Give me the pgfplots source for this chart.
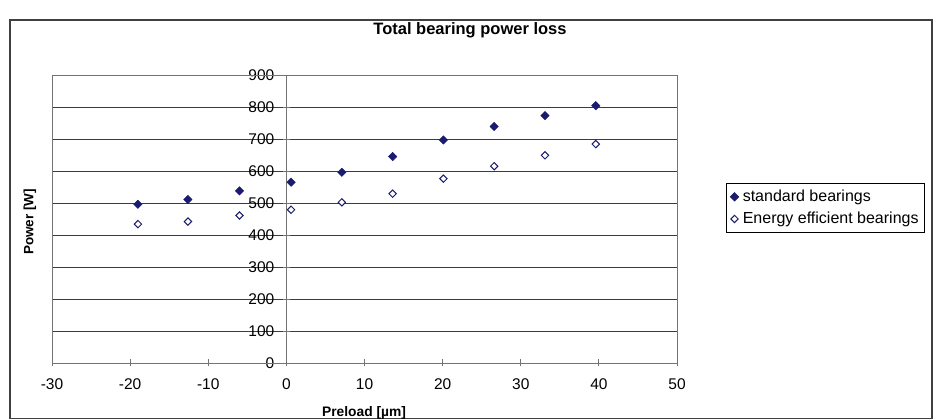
\documentclass[border=0pt]{standalone}
\usepackage{pgfplots}
\pgfplotsset{compat=1.18}
\usepackage{fontspec}
\setmainfont{Liberation Sans}
\definecolor{navy}{RGB}{28,28,110}
\definecolor{gridc}{RGB}{60,60,60}
\begin{document}
\begin{tikzpicture}
\useasboundingbox (-52pt,-57pt) rectangle (888pt,363pt);
\begin{axis}[
  scale only axis, width=625pt, height=288pt,
  xmin=-30, xmax=50, ymin=0, ymax=900,
  axis lines=middle,
  axis line style={draw=gray!90!black, line width=0.8pt, -},
  xtick={-30,-20,...,50}, ytick={0,100,...,900},
  ymajorgrids, grid style={draw=gridc, line width=0.7pt},
  tick align=center, major tick length=7pt,
  tick style={draw=gray!90!black, line width=0.8pt},
  /pgf/number format/assume math mode=true,
  ticklabel style={font=\fontsize{15.5}{17}\selectfont},
  xticklabel style={yshift=-9pt},
  yticklabel style={xshift=-5pt},
  hide obscured x ticks=false, hide obscured y ticks=false,
  legend style={at={(axis description cs:1.0784,0.625)}, anchor=north west,
    draw=black, line width=0.6pt, font=\fontsize{16}{18}\selectfont,
    inner xsep=4pt, inner ysep=5pt, row sep=5pt},
  legend cell align=left,
  clip=false,
]
\draw[gray!90!black, line width=0.8pt] (rel axis cs:0,0) rectangle (rel axis cs:1,1);
\addplot[only marks, mark=square*, mark size=3pt, mark options={rotate=45, fill=navy, draw=navy}] coordinates {
(-19,496) (-12.6,511) (-6,538) (0.6,565) (7.1,596) (13.6,645) (20.1,697) (26.6,739) (33.1,773) (39.6,804)};
\addlegendentry{\hspace{2pt}standard bearings}
\addplot[only marks, mark=square*, mark size=2.6pt, mark options={rotate=45, fill=white, draw=navy, line width=1pt}] coordinates {
(-19,434) (-12.6,442) (-6,461) (0.6,479) (7.1,502) (13.6,529) (20.1,576) (26.6,615) (33.1,649) (39.6,684)};
\addlegendentry{\hspace{2pt}Energy efficient bearings}
\end{axis}
\draw[black!75, line width=1.2pt] (-42pt,-55.5pt) rectangle (880pt,343pt);
\node[font=\bfseries\fontsize{16.5}{18}\selectfont] at (418pt,333pt) {Total bearing power loss};
\node[font=\bfseries\fontsize{13.5}{15}\selectfont, rotate=90] at (-22pt,141pt) {Power [W]};
\node[font=\bfseries\fontsize{13.8}{15}\selectfont] at (312pt,-50pt) {Preload [µm]};
\end{tikzpicture}
\end{document}
